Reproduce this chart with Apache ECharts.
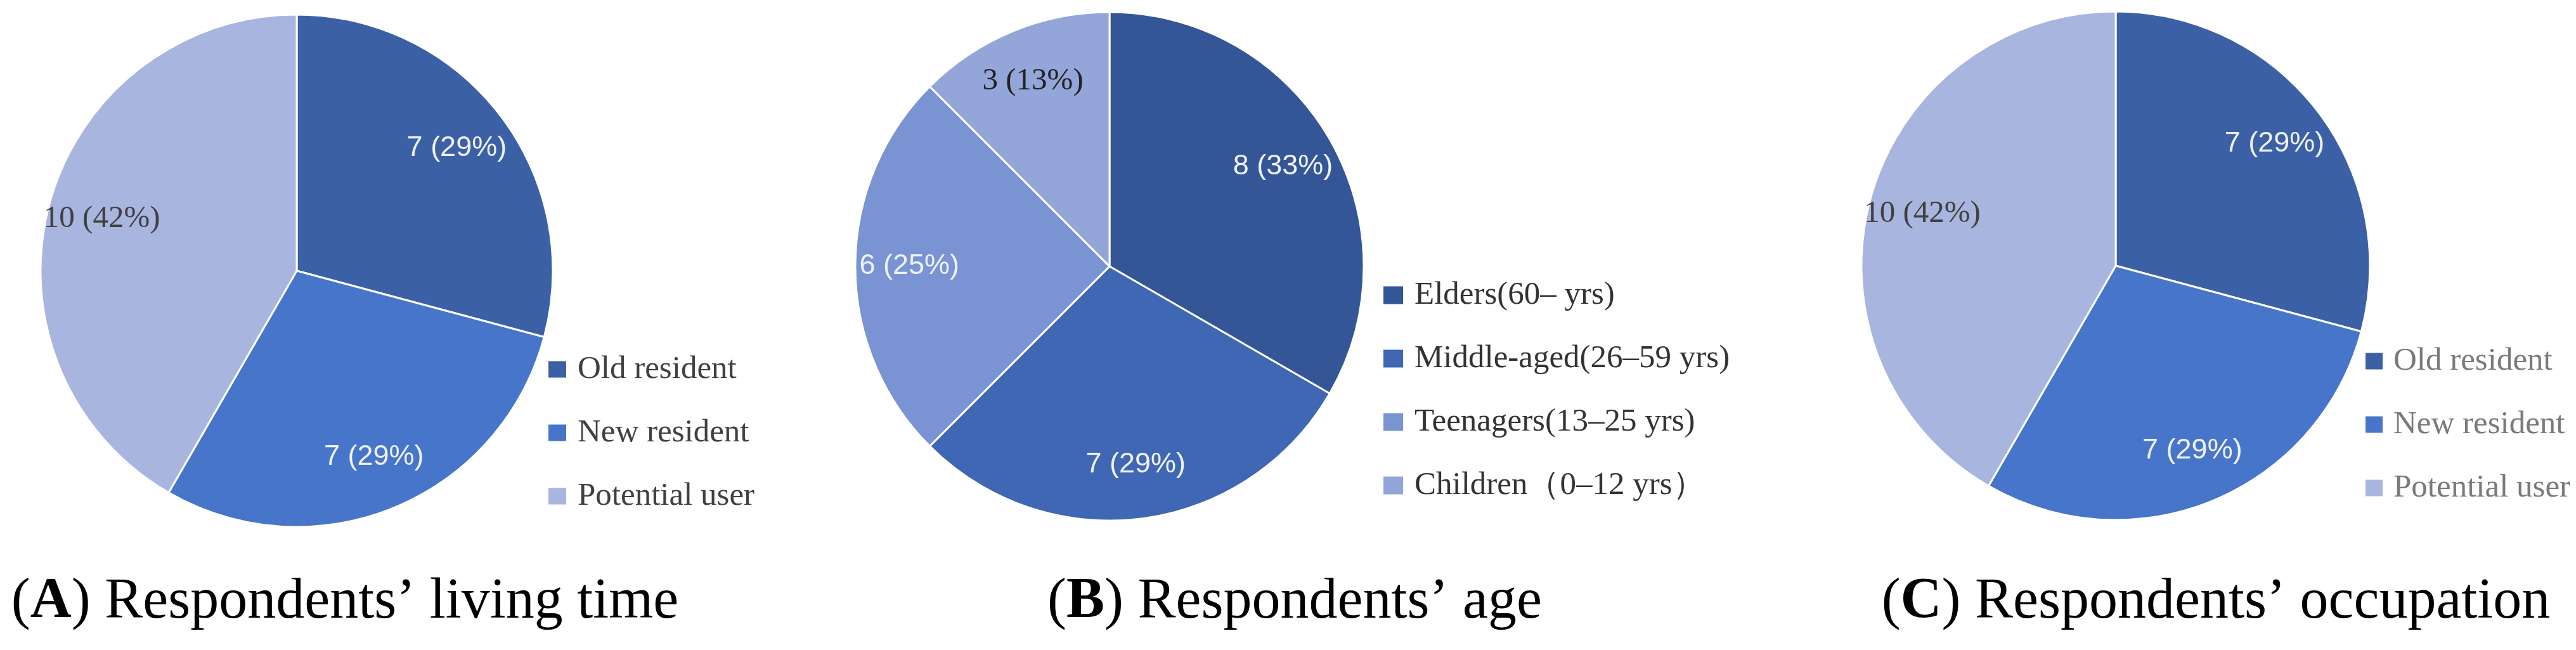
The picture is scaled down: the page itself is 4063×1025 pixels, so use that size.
<!DOCTYPE html>
<html><head><meta charset="utf-8">
<script src="https://cdn.jsdelivr.net/npm/echarts@6/dist/echarts.min.js"></script>
<style>html,body{margin:0;padding:0;background:#fff}#c{width:4063px;height:1025px}</style>
</head><body><div id="c"></div>
<script>
// ---- data ----
const livingNames = ['Old resident', 'New resident', 'Potential user'];
const livingValues = [7, 7, 10];
const ageNames = ['Elders(60– yrs)', 'Middle-aged(26–59 yrs)', 'Teenagers(13–25 yrs)', 'Children（0–12 yrs）'];
const ageValues = [8, 7, 6, 3];
const occupationNames = ['Old resident', 'New resident', 'Potential user'];
const occupationValues = [7, 7, 10];
const captionLetters = ['A', 'B', 'C'];
const captionTexts = [' Respondents’ living time', ' Respondents’ age', ' Respondents’ occupation'];

// ---- styles ----
const serif = "'Liberation Serif', 'Times New Roman', serif";
const colorsAC = ['#3B60A6', '#4775CA', '#A8B5DE'];
const colorsB = ['#345596', '#3F67B4', '#7A93D2', '#93A5D9'];
const lightLabel = {color: '#eef1f8', fontFamily: 'Liberation Sans', fontSize: 45};
const darkLabelA = {color: '#404040', fontFamily: serif, fontSize: 49};
const darkLabelB = {color: '#222222', fontFamily: serif, fontSize: 49};

const pies = [
  {names: livingNames, values: livingValues, colors: colorsAC, labels: [lightLabel, lightLabel, darkLabelA], cx: 468, cy: 427, r: 404},
  {names: ageNames, values: ageValues, colors: colorsB, labels: [lightLabel, lightLabel, lightLabel, darkLabelB], cx: 1750, cy: 420, r: 401},
  {names: occupationNames, values: occupationValues, colors: colorsAC, labels: [lightLabel, lightLabel, darkLabelA], cx: 3337, cy: 419, r: 401}
];

const series = [];
pies.forEach(function (p) {
  series.push({
    type: 'pie', center: [p.cx, p.cy], radius: [0, p.r], startAngle: 90, clockwise: true,
    percentPrecision: 0, silent: true, animation: false,
    itemStyle: {borderColor: '#ffffff', borderWidth: 3},
    label: {show: false}, labelLine: {show: false},
    emphasis: {disabled: true},
    data: p.names.map(function (n, i) { return {name: n, value: p.values[i], itemStyle: {color: p.colors[i]}}; })
  });
  // transparent ring used only to place value labels at ~0.78 of radius
  series.push({
    type: 'pie', center: [p.cx, p.cy], radius: [p.r * 0.56, p.r], startAngle: 90, clockwise: true,
    percentPrecision: 0, silent: true, animation: false, legendHoverLink: false,
    itemStyle: {color: 'rgba(0,0,0,0)', borderWidth: 0},
    labelLine: {show: false}, emphasis: {disabled: true},
    label: {show: true, position: 'inside', formatter: '{c} ({d}%)'},
    data: p.names.map(function (n, i) { return {name: n + ' ', value: p.values[i], label: p.labels[i]}; })
  });
});

const legendCfg = [
  {left: 863, top: 557, itemWidth: 30, itemHeight: 28, pad: 12, color: '#404040', data: livingNames},
  {left: 2180, top: 440, itemWidth: 33, itemHeight: 30, pad: 12, color: '#333333', data: ageNames},
  {left: 3729, top: 544, itemWidth: 29, itemHeight: 28, pad: 11, color: '#7a7a7a', data: occupationNames}
];
const legends = legendCfg.map(function (l) {
  return {
    orient: 'vertical', left: l.left, top: l.top, icon: 'rect', itemWidth: l.itemWidth, itemHeight: l.itemHeight,
    itemGap: 49, selectedMode: false, padding: 0,
    textStyle: {fontFamily: serif, fontWeight: 'normal', fontSize: 51, lineHeight: 50, color: l.color, padding: [0, 0, 0, l.pad]},
    data: l.data
  };
});

const captionX = [544, 2042, 3495];
const titles = captionLetters.map(function (L, i) {
  return {
    left: captionX[i], top: 905, textAlign: 'center', padding: 0,
    text: '{n|(}{b|' + L + '}{n|)' + captionTexts[i] + '}',
    textStyle: {fontWeight: 'normal', fontFamily: serif, fontSize: 90, color: '#000', rich: {
      n: {fontFamily: serif, fontSize: 90, lineHeight: 90, fontWeight: 'normal', color: '#000'},
      b: {fontFamily: serif, fontSize: 90, lineHeight: 90, fontWeight: 'bold', color: '#000'}
    }}
  };
});

const chart = echarts.init(document.getElementById('c'));
chart.setOption({
  backgroundColor: '#ffffff',
  animation: false,
  title: titles,
  legend: legends,
  series: series
});
</script></body></html>
